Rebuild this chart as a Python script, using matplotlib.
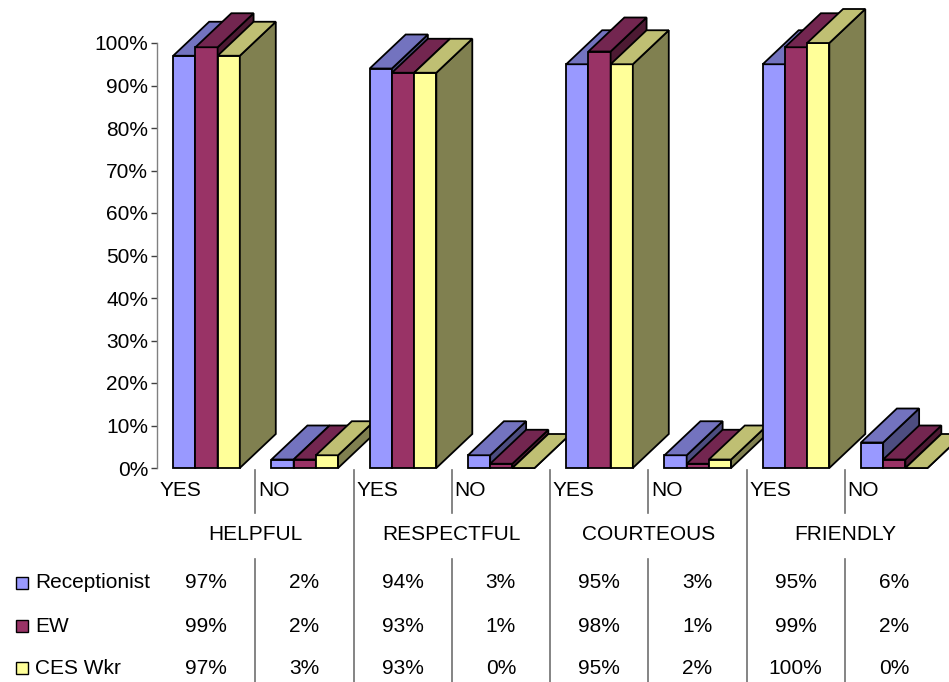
import matplotlib
matplotlib.use("Agg")
import matplotlib.pyplot as plt
import matplotlib.transforms as mtransforms
from matplotlib.patches import Polygon, Rectangle
from matplotlib.lines import Line2D

plt.rcParams['font.family'] = ['Liberation Sans', 'DejaVu Sans']

groups = ["HELPFUL", "RESPECTFUL", "COURTEOUS", "FRIENDLY"]
answers = ["YES", "NO"]
series = ["Receptionist", "EW", "CES Wkr"]

receptionist = [97, 2, 94, 3, 95, 3, 95, 6]
ew = [99, 2, 93, 1, 98, 1, 99, 2]
ces_wkr = [97, 3, 93, 0, 95, 2, 100, 0]

# front / top / side shades for each series
colors = [
    ("#9999FF", "#7373BF", "#4D4D80"),
    ("#993366", "#732650", "#4D1A33"),
    ("#FFFF99", "#BFBF73", "#808050"),
]

W, H = 949, 682
fig = plt.figure(figsize=(W / 100, H / 100), dpi=100)
ax = fig.add_axes([157 / W, (H - 468) / H, 786 / W, 425 / H])

values = [receptionist, ew, ces_wkr]
ncat = len(receptionist)
bar_w = 0.226
offset = 0.165
dx, dy = 0.366, 8.0   # oblique depth offset (category units, percent)

z = 2
for i in range(ncat):
    for s, vals in enumerate(values):
        h = vals[i]
        x0 = i + offset + s * bar_w
        x1 = x0 + bar_w
        front_c, top_c, side_c = colors[s]
        faces = [
            ([(x0, 0), (x1, 0), (x1, h), (x0, h)], front_c),
            ([(x1, 0), (x1 + dx, dy), (x1 + dx, h + dy), (x1, h)], side_c),
            ([(x0, h), (x1, h), (x1 + dx, h + dy), (x0 + dx, h + dy)], top_c),
        ]
        for pts, c in faces:
            ax.add_patch(Polygon(pts, closed=True, facecolor=c, edgecolor="black",
                                 linewidth=1.3, joinstyle="miter", zorder=z,
                                 clip_on=False))
        z += 1

ax.set_xlim(0, ncat)
ax.set_ylim(0, 100)
ax.set_yticks(range(0, 101, 10))
ax.set_yticklabels([f"{v}%" for v in range(0, 101, 10)], fontsize=15)
ax.tick_params(axis="y", length=4.3, width=1, color="#404040", pad=2)
ax.set_xticks([])
for side in ["top", "right", "bottom"]:
    ax.spines[side].set_visible(False)
ax.spines["left"].set_color("#808080")
ax.spines["left"].set_linewidth(1)
ax.patch.set_visible(False)

# data table under the chart: x in category units, y in figure pixels
trans = mtransforms.blended_transform_factory(ax.transData, fig.transFigure)


def fy(ypix):
    return 1 - ypix / H


for i in range(ncat):
    ax.text(i + 0.03, fy(490), answers[i % 2], transform=trans, fontsize=15,
            ha="left", va="center")

for g, name in enumerate(groups):
    ax.text(2 * g + 1, fy(535), name, transform=trans, fontsize=15,
            ha="center", va="center")

row_y = [583, 626, 668]
for s, vals in enumerate(values):
    for i in range(ncat):
        ax.text(i + 0.5, fy(row_y[s]), f"{vals[i]}%", transform=trans,
                fontsize=15, ha="center", va="center")
    fig.patches.append(Rectangle((16 / W, fy(row_y[s] + 6)), 12 / W, 12 / H,
                                 transform=fig.transFigure,
                                 facecolor=colors[s][0], edgecolor="black",
                                 linewidth=1))
    fig.text(35 / W, fy(row_y[s]), series[s], fontsize=15, ha="left",
             va="center")

# column separators: within a group they break at the group-name row
for i in range(1, ncat):
    if i % 2 == 1:
        spans = [(470, 513), (559, 682)]
    else:
        spans = [(470, 682)]
    for a, b in spans:
        ax.add_line(Line2D([i, i], [fy(a), fy(b)], transform=trans,
                           color="#707070", linewidth=1.2, clip_on=False))

fig.savefig("out.png", dpi=100)
